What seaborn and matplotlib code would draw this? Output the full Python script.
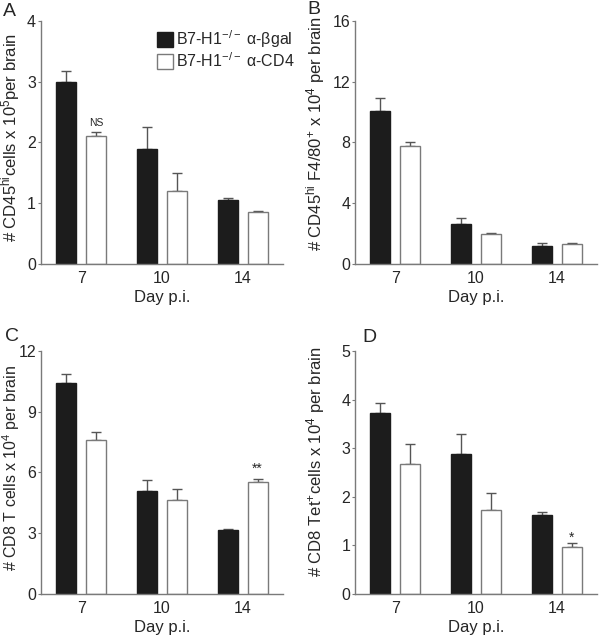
import matplotlib
matplotlib.use("Agg")
import matplotlib.pyplot as plt
import seaborn as sns
import pandas as pd
from matplotlib.patches import Patch

# data
days = ["7", "10", "14"]
groups = ["B7-H1$^{-/-}$ α-βgal", "B7-H1$^{-/-}$ α-CD4"]

a_bgal = [3.0, 1.9, 1.05]
a_bgal_err = [0.17, 0.35, 0.03]
a_cd4 = [2.1, 1.2, 0.85]
a_cd4_err = [0.08, 0.29, 0.03]

b_bgal = [10.1, 2.63, 1.2]
b_bgal_err = [0.8, 0.37, 0.15]
b_cd4 = [7.8, 1.97, 1.3]
b_cd4_err = [0.22, 0.1, 0.08]

c_bgal = [10.4, 5.08, 3.18]
c_bgal_err = [0.45, 0.55, 0.04]
c_cd4 = [7.6, 4.63, 5.53]
c_cd4_err = [0.4, 0.56, 0.15]

d_bgal = [3.72, 2.88, 1.62]
d_bgal_err = [0.2, 0.42, 0.07]
d_cd4 = [2.68, 1.72, 0.97]
d_cd4_err = [0.4, 0.35, 0.07]

ylabels = [
    "# CD45$^{hi}$cells x 10$^{5}$per brain",
    "# CD45$^{hi}$ F4/80$^{+}$ x 10$^{4}$ per brain",
    "# CD8 T cells x 10$^{4}$ per brain",
    "# CD8 Tet$^{+}$cells x 10$^{4}$ per brain",
]
yticks = [[0, 1, 2, 3, 4], [0, 4, 8, 12, 16], [0, 3, 6, 9, 12], [0, 1, 2, 3, 4, 5]]

sns.set_style("ticks")
plt.rcParams["font.family"] = ["Liberation Sans", "DejaVu Sans"]
plt.rcParams["mathtext.fontset"] = "custom"
plt.rcParams["mathtext.rm"] = "Liberation Sans"
plt.rcParams["mathtext.it"] = "Liberation Sans"

grey = "#7a7a7a"
fill = ["#1c1c1c", "white"]
edges = ["#1c1c1c", grey]

fig = plt.figure(figsize=(6, 6.37), dpi=100)
boxes = [
    [0.0683, 0.5856, 0.4033, 0.3815],
    [0.5917, 0.5856, 0.4033, 0.3815],
    [0.0683, 0.0675, 0.4033, 0.3815],
    [0.5917, 0.0675, 0.4033, 0.3815],
]
panels = [
    (a_bgal, a_bgal_err, a_cd4, a_cd4_err),
    (b_bgal, b_bgal_err, b_cd4, b_cd4_err),
    (c_bgal, c_bgal_err, c_cd4, c_cd4_err),
    (d_bgal, d_bgal_err, d_cd4, d_cd4_err),
]
label_x = [-0.08, -0.116, -0.078, -0.116]
label_y = [0.52, 0.535, 0.52, 0.545]
label_size = [12, 12, 11.5, 12]

axes = []
for i, (bg, bg_err, cd, cd_err) in enumerate(panels):
    ax = fig.add_axes(boxes[i])
    df = pd.DataFrame({
        "day": days * 2,
        "value": bg + cd,
        "group": [groups[0]] * 3 + [groups[1]] * 3,
    })
    sns.barplot(data=df, x="day", y="value", hue="group", order=days,
                hue_order=groups, palette=fill, width=0.74, gap=0.33,
                legend=False, ax=ax, zorder=2)
    for k, (cont, err) in enumerate(zip(ax.containers, [bg_err, cd_err])):
        for bar, e in zip(cont, err):
            bar.set_edgecolor(edges[k])
            bar.set_linewidth(1.0)
            xc = bar.get_x() + bar.get_width() / 2
            ax.errorbar(xc, bar.get_height(), yerr=[[0], [e]], fmt="none",
                        ecolor="#555555", elinewidth=1.0, capsize=3.8,
                        capthick=1.0, zorder=1)
    ax.set_xlim(-0.5, 2.5)
    ax.set_ylim(0, yticks[i][-1])
    ax.set_yticks(yticks[i])
    ax.set_xlabel("Day p.i.", fontsize=12, labelpad=3)
    ax.set_ylabel(ylabels[i], fontsize=label_size[i])
    ax.yaxis.set_label_coords(label_x[i], label_y[i])
    ax.tick_params(axis="x", length=0, labelsize=11.5, pad=5)
    ax.tick_params(axis="y", length=2.5, color=grey, labelsize=11.5, pad=1)
    for s in ["top", "right"]:
        ax.spines[s].set_visible(False)
    for s in ["left", "bottom"]:
        ax.spines[s].set_color(grey)
        ax.spines[s].set_linewidth(1.0)
    axes.append(ax)

# legend in panel A
handles = [Patch(facecolor=fill[k], edgecolor=edges[k], label=groups[k]) for k in range(2)]
axes[0].legend(handles=handles, loc="upper left", bbox_to_anchor=(0.479, 0.97),
               frameon=False, fontsize=11.5, handlelength=1.0, handleheight=1.1,
               handletextpad=0.2, labelspacing=0.1, borderpad=0, borderaxespad=0)

# significance marks
bar_a = axes[0].containers[1][0]
axes[0].text(bar_a.get_x() + bar_a.get_width() / 2, 2.32, "NS",
             ha="center", va="center", fontsize=7.5)
bar_c = axes[2].containers[1][2]
axes[2].text(bar_c.get_x() + bar_c.get_width() / 2, 6.2, "**",
             ha="center", va="center", fontsize=10)
bar_d = axes[3].containers[1][2]
axes[3].text(bar_d.get_x() + bar_d.get_width() / 2, 1.16, "*",
             ha="center", va="center", fontsize=10)

# panel letters
for letter, (px, py) in zip("ABCD", [(3, 3), (307, 1), (5, 328), (362, 329)]):
    fig.text(px / 600, 1 - py / 637, letter, fontsize=14, ha="left", va="top")

fig.savefig("out.png", dpi=100)
